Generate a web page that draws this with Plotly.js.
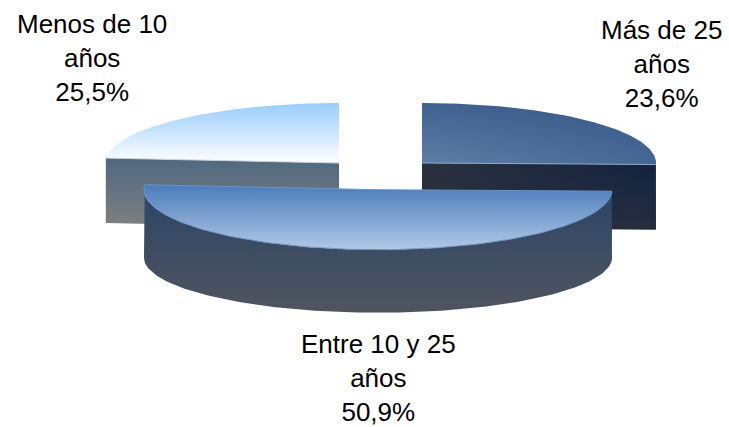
<!DOCTYPE html>
<html><head><meta charset="utf-8">
<script src="https://cdn.plot.ly/plotly-3.0.1.min.js"></script>
<style>html,body{margin:0;padding:0;background:#fff}#c{width:729px;height:427px}</style>
</head><body><div id="c"></div>
<script>
// Data
const categories = ['Más de 25 años', 'Entre 10 y 25 años', 'Menos de 10 años'];
const labelLines = [['Más de 25', 'años'], ['Entre 10 y 25', 'años'], ['Menos de 10', 'años']];
const shares = [23.6, 50.9, 25.5];

// Drawing geometry of the exploded, tilted pie
const apexX = [422, 378, 339];
const apexY = [163, 189.7, 163];
const radiusX = 234, radiusY = 60, depth = 65, tilt = 6.5;
const baseRadiusY = 55, baseDepth = 68;
const labelX = [661, 378, 92];
const labelY = [64, 378, 58];

const rad = d => d * Math.PI / 180;
const warp = d => d + tilt * Math.abs(Math.sin(rad(d)));   // tilted view shifts the boundaries
let acc = 0;
const bounds = shares.map(s => { const a = warp(acc / 100 * 360); acc += s; return [a, warp(acc / 100 * 360)]; });

function arc(i, a, b, dy, ry) {
  const xs = [], ys = [], n = 120;
  for (let k = 0; k <= n; k++) {
    const t = rad(a + (b - a) * k / n);
    xs.push(apexX[i] + radiusX * Math.sin(t));
    ys.push(apexY[i] - (ry || radiusY) * Math.cos(t) + (dy || 0));
  }
  return [xs, ys];
}
function face(i) {
  const [xs, ys] = arc(i, bounds[i][0], bounds[i][1]);
  return { x: [apexX[i], ...xs, apexX[i]], y: [apexY[i], ...ys, apexY[i]] };
}
function cutWall(i, angle) {
  const [x, y] = arc(i, angle, angle);
  return { x: [apexX[i], x[0], x[0], apexX[i], apexX[i]],
           y: [apexY[i], y[0], y[0] + depth, apexY[i] + depth, apexY[i]] };
}
function frontWall(i) {
  const [a, b] = bounds[i];
  const [xt, yt] = arc(i, a, b);
  const [xb, yb] = arc(i, Math.max(a, 90), Math.min(b, 270), baseDepth, baseRadiusY);
  return { x: [...xt, ...xb.slice().reverse(), xt[0]], y: [...yt, ...yb.slice().reverse(), yt[0]] };
}
// the y axis runs downwards, so the first colour of a vertical gradient lands at the bottom
const grad = (type, c0, c1) => ({ type, colorscale: [[0, c0], [1, c1]] });
const poly = (p, g) => ({ x: p.x, y: p.y, mode: 'lines', fill: 'toself', line: { width: 0 }, fillgradient: g, hoverinfo: 'skip', showlegend: false });
const edge = (x, y, color) => ({ x, y, mode: 'lines', line: { width: 1, color }, hoverinfo: 'skip', showlegend: false });

const traces = [
  // Más de 25
  poly(cutWall(0, bounds[0][1]), grad('horizontal', '#2a303f', '#12233f')),
  poly(cutWall(0, bounds[0][1]), grad('vertical', 'rgba(40,46,62,0.95)', 'rgba(40,46,62,0)')),
  poly(face(0), grad('vertical', '#5f7ea6', '#41628f')),
  poly(face(0), grad('horizontal', 'rgba(40,75,125,0)', 'rgba(40,75,125,0.45)')),
  // Menos de 10
  poly(cutWall(2, bounds[2][0]), grad('vertical', '#808080', '#4f6880')),
  poly(face(2), grad('vertical', '#ffffff', '#99ccff')),
];
{
  const [x0, y0] = arc(0, bounds[0][1], bounds[0][1]);
  traces.push(edge([apexX[0], x0[0]], [apexY[0], y0[0]], '#8fa6c6'));
  const [x2, y2] = arc(2, bounds[2][0], bounds[2][0]);
  traces.push(edge([apexX[2], x2[0]], [apexY[2], y2[0]], '#c9d2da'));
  // Entre 10 y 25
  traces.push(poly(frontWall(1), grad('vertical', '#50545e', '#2a4467')));
  traces.push(poly(face(1), grad('vertical', '#b2c8e6', '#4a7cbb')));
  const f = face(1);
  traces.push(edge(f.x, f.y, '#6d94c8'));
}

const annotations = categories.map((c, i) => ({
  x: labelX[i], y: labelY[i], xref: 'x', yref: 'y', showarrow: false, xanchor: 'center', yanchor: 'middle',
  align: 'center',
  text: labelLines[i].join('<br>') + '<br>' + shares[i].toFixed(1).replace('.', ',') + '%',
  font: { family: 'Liberation Sans, Arial, sans-serif', size: 26, color: '#000' }
}));

Plotly.newPlot('c', traces, {
  width: 729, height: 427, margin: { l: 0, r: 0, t: 0, b: 0 },
  paper_bgcolor: '#fff', plot_bgcolor: '#fff', showlegend: false, hovermode: false,
  xaxis: { range: [0, 729], visible: false, fixedrange: true },
  yaxis: { range: [427, 0], visible: false, fixedrange: true },
  annotations
}, { displayModeBar: false, staticPlot: true });
</script></body></html>
